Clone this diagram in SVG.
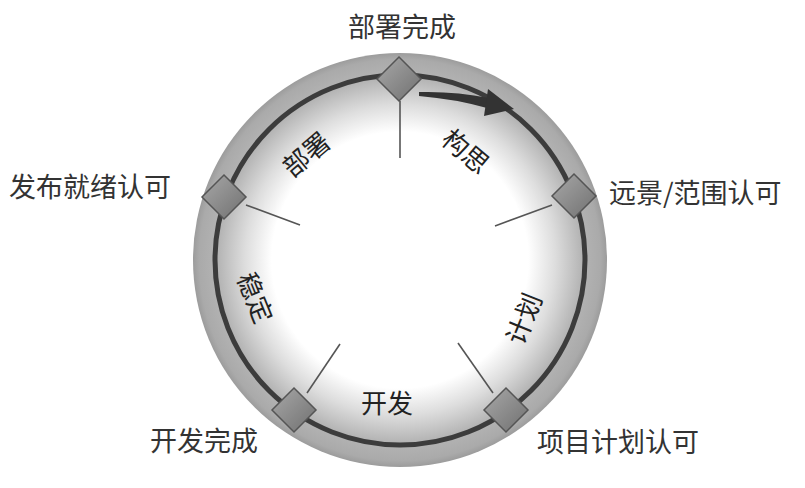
<svg xmlns="http://www.w3.org/2000/svg" width="805" height="488" viewBox="0 0 805 488">
  <defs>
    <radialGradient id="disk" cx="400" cy="260" r="207" gradientUnits="userSpaceOnUse">
      <stop offset="0" stop-color="#ffffff"/>
      <stop offset="0.62" stop-color="#ffffff"/>
      <stop offset="0.75" stop-color="#dddddd"/>
      <stop offset="0.83" stop-color="#c4c4c4"/>
      <stop offset="0.88" stop-color="#b4b4b4"/>
      <stop offset="0.97" stop-color="#aaaaaa"/>
      <stop offset="1" stop-color="#9c9c9c"/>
    </radialGradient>
    <linearGradient id="dia" x1="0" y1="0" x2="1" y2="1">
      <stop offset="0" stop-color="#a8a8a8"/>
      <stop offset="1" stop-color="#707070"/>
    </linearGradient>
    <polygon id="diamond" points="0,-22 22,0 0,22 -22,0"/>
  </defs>
  <style>
    .lbl { font-family: "Noto Sans CJK SC", "Noto Sans", sans-serif; font-size: 27px; fill: #333333; }
    .phase { font-family: "Noto Sans CJK SC", "Noto Sans", sans-serif; font-size: 26px; fill: #222222; text-anchor: middle; dominant-baseline: central; }
    .dm { fill: url(#dia); stroke: #555555; stroke-width: 1.5; }
    .spoke { stroke: #555555; stroke-width: 1.6; }
    .track { fill: none; stroke: #3c3c3c; stroke-width: 5; }
  </style>
  <rect width="805" height="488" fill="#ffffff"/>
  <circle cx="400" cy="260" r="207" fill="url(#disk)"/>

  <g id="connectors">
    <circle class="track" cx="400" cy="260" r="185"/>
    <path d="M419,92 Q455,91 489,98 L487,108 Q455,99 419,96 Z" fill="#333333"/>
    <polygon points="488,89 514,109 484,116" fill="#333333"/>
  </g>

  <g id="node-deploy-done">
    <line class="spoke" x1="400" y1="101" x2="400" y2="158"/>
    <use href="#diamond" class="dm" x="399" y="79"/>
    <text class="lbl" x="402" y="37" text-anchor="middle">部署完成</text>
  </g>
  <g id="node-vision-approved">
    <line class="spoke" x1="552" y1="205" x2="495" y2="226"/>
    <use href="#diamond" class="dm" x="574" y="196"/>
    <text class="lbl" x="609" y="203">远景/范围认可</text>
  </g>
  <g id="node-plan-approved">
    <line class="spoke" x1="493" y1="393" x2="458" y2="343"/>
    <use href="#diamond" class="dm" x="506" y="410"/>
    <text class="lbl" x="537" y="452">项目计划认可</text>
  </g>
  <g id="node-dev-done">
    <line class="spoke" x1="307" y1="393" x2="340" y2="344"/>
    <use href="#diamond" class="dm" x="294" y="410"/>
    <text class="lbl" x="150" y="451">开发完成</text>
  </g>
  <g id="node-release-ready">
    <line class="spoke" x1="246" y1="205" x2="300" y2="225"/>
    <use href="#diamond" class="dm" x="224" y="197"/>
    <text class="lbl" x="9" y="197">发布就绪认可</text>
  </g>

  <g id="phases">
    <text class="phase" transform="translate(305,153) rotate(-40)">部署</text>
    <text class="phase" transform="translate(467,150) rotate(40)">构思</text>
    <text class="phase" transform="translate(522,318) rotate(-68)">计划</text>
    <text class="phase" transform="translate(387,401)">开发</text>
    <text class="phase" transform="translate(257,297) rotate(68)">稳定</text>
  </g>
</svg>
